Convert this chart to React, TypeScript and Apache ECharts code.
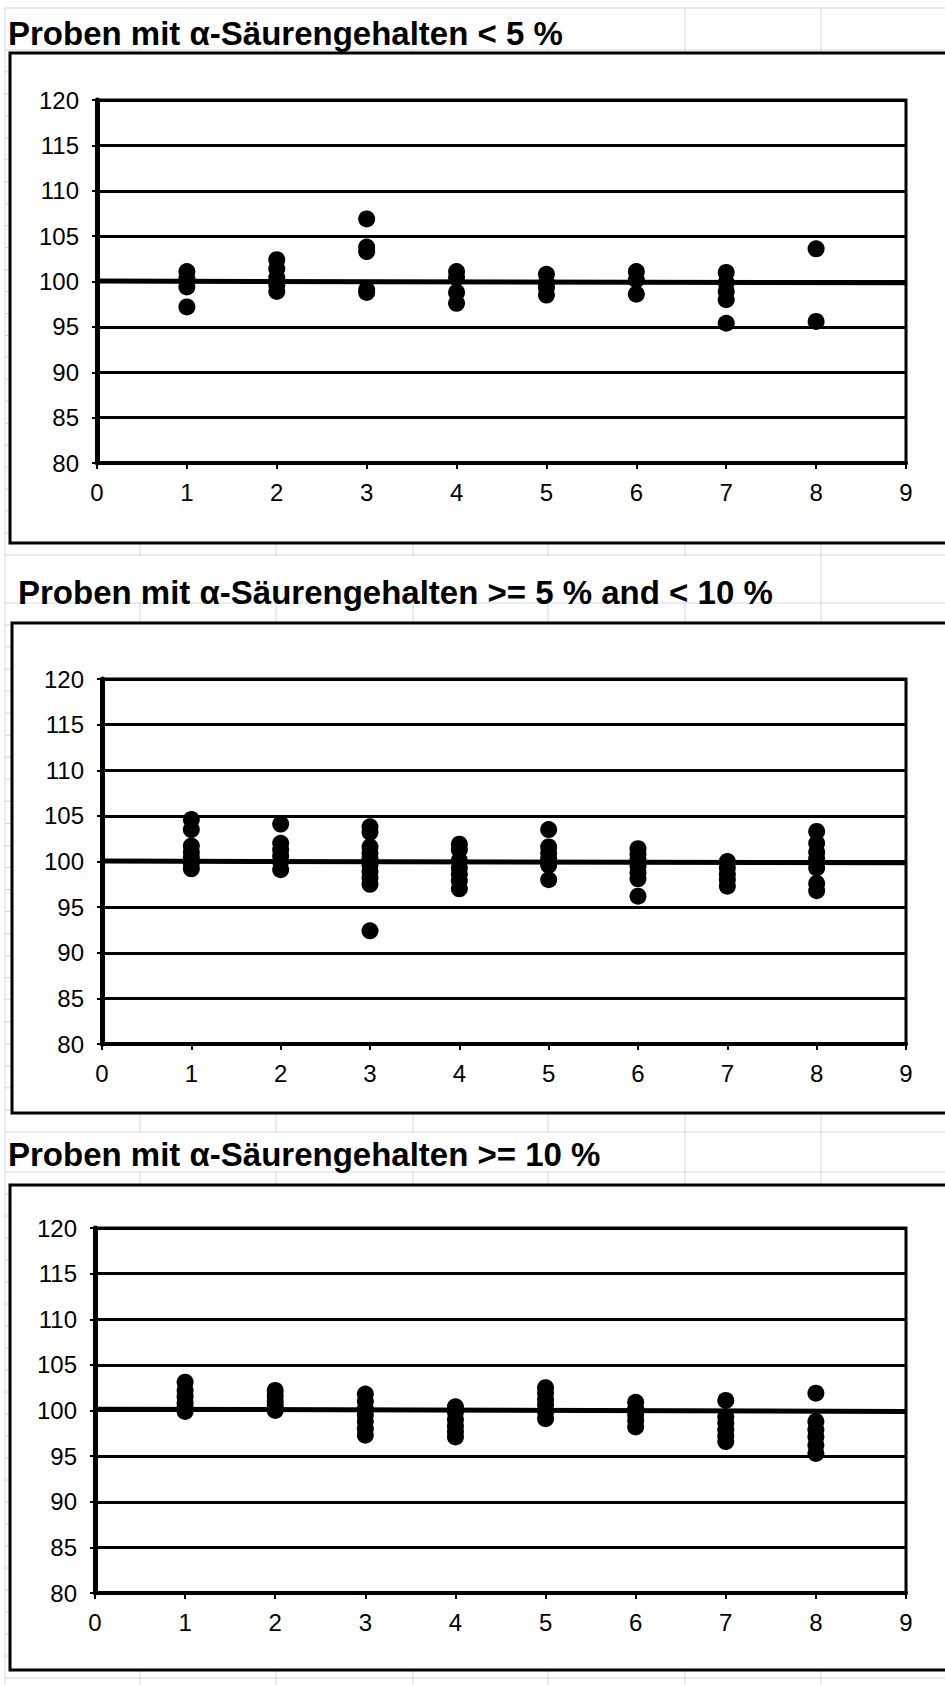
import React, { useEffect, useRef } from "react";
import * as echarts from "echarts";

// ---------- data ----------
const sampleIds = [1, 2, 3, 4, 5, 6, 7, 8];

const titleTexts = [
  "Proben mit α-Säurengehalten < 5 %",
  "Proben mit α-Säurengehalten >= 5 % and < 10 %",
  "Proben mit α-Säurengehalten >= 10 %",
];

// recovery values (%) per sample 1..8 — α-acid content < 5 %
const lowAcid: number[][] = [
  [101.1, 100.3, 99.4, 97.2],
  [102.4, 101.4, 100.4, 99.6, 98.9],
  [106.9, 103.8, 103.3, 99.1, 98.8],
  [101.1, 100.4, 98.8, 97.6],
  [100.8, 99.9, 99.3, 98.5],
  [101.1, 100.2, 98.6],
  [101.0, 99.9, 98.9, 98.0, 95.4],
  [103.6, 95.6],
];

// α-acid content >= 5 % and < 10 %
const midAcid: number[][] = [
  [104.6, 103.5, 101.7, 101.0, 100.4, 99.8, 99.2],
  [104.1, 102.0, 101.3, 100.6, 100.0, 99.1],
  [103.8, 103.2, 101.6, 100.9, 100.3, 99.6, 98.9, 98.2, 97.5, 92.4],
  [101.9, 101.3, 100.1, 99.3, 98.6, 97.9, 97.0],
  [103.5, 101.6, 100.9, 100.3, 99.6, 98.0],
  [101.4, 100.8, 100.2, 99.5, 98.8, 98.1, 96.2],
  [100.0, 99.3, 98.6, 98.0, 97.3],
  [103.3, 102.0, 101.0, 100.3, 99.3, 97.6, 96.8],
];

// α-acid content >= 10 %
const highAcid: number[][] = [
  [103.1, 102.2, 101.5, 100.8, 100.3, 99.9],
  [102.2, 101.6, 101.0, 100.5, 100.0],
  [101.8, 101.0, 100.2, 99.5, 98.8, 98.0, 97.3],
  [100.4, 99.8, 99.0, 98.3, 97.7, 97.1],
  [102.5, 101.9, 101.2, 100.6, 99.8, 99.1],
  [100.9, 100.2, 99.5, 98.9, 98.2],
  [101.1, 99.3, 98.6, 97.9, 97.2, 96.6],
  [101.9, 98.8, 97.9, 97.1, 96.2, 95.3],
];

// trend line end values at x = 0 and x = 9
const trendX = [0, 9];
const lowTrend = [100.05, 99.85];
const midTrend = [100.05, 99.85];
const highTrend = [100.15, 99.9];

const groups = [lowAcid, midAcid, highAcid];
const trends = [lowTrend, midTrend, highTrend];

// ---------- layout ----------
const W = 945;
const H = 1685;
const FONT = "'Liberation Sans', Arial, sans-serif";

const panels = [
  { titleX: 8, titleY: 33, maskEnd: 572, rowTop: 8, rowBottom: 50, boxX: 10, boxTop: 53, boxBottom: 543, left: 97, top: 100, right: 906, bottom: 463 },
  { titleX: 18, titleY: 592, maskEnd: 782, rowTop: 555, rowBottom: 603, boxX: 12, boxTop: 623, boxBottom: 1113, left: 102, top: 679, right: 906, bottom: 1044 },
  { titleX: 8, titleY: 1154, maskEnd: 612, rowTop: 1132, rowBottom: 1172, boxX: 10, boxTop: 1185, boxBottom: 1670, left: 95, top: 1228, right: 906, bottom: 1593 },
];

const colLines = [5, 140, 276, 413, 548, 685, 821];

function buildRowLines(): number[] {
  const rows: number[] = [8, 50];
  for (let k = 1; k < 23; k++) rows.push(50 + (505 / 23) * k);
  rows.push(555, 603);
  for (let k = 1; k < 24; k++) rows.push(603 + (529 / 24) * k);
  rows.push(1132, 1172);
  for (let y = 1172 + 22; y < H; y += 22) rows.push(y);
  return rows;
}

export default function App() {
  const ref = useRef<HTMLDivElement>(null);

  useEffect(() => {
    if (!ref.current) return;
    const chart = echarts.init(ref.current, undefined, { renderer: "svg", width: W, height: H });

    const graphics: any[] = [];
    // spreadsheet grid
    buildRowLines().forEach((y) => {
      graphics.push({
        type: "line", z: -40, silent: true,
        shape: { x1: 5, y1: y, x2: W, y2: y },
        style: { stroke: "#d0d7e5", lineWidth: 1 },
      });
    });
    colLines.forEach((x) => {
      graphics.push({
        type: "line", z: -40, silent: true,
        shape: { x1: x, y1: 8, x2: x, y2: H },
        style: { stroke: "#d0d7e5", lineWidth: 1 },
      });
    });
    panels.forEach((p) => {
      // overflowing title text hides gridlines
      graphics.push({
        type: "rect", z: -30, silent: true,
        shape: { x: 6, y: p.rowTop + 1, width: p.maskEnd - 6, height: p.rowBottom - p.rowTop - 2 },
        style: { fill: "#ffffff" },
      });
      // chart object frame
      graphics.push({
        type: "rect", z: -20, silent: true,
        shape: { x: p.boxX, y: p.boxTop, width: W + 20 - p.boxX, height: p.boxBottom - p.boxTop },
        style: { fill: "#ffffff", stroke: "#000000", lineWidth: 3 },
      });
    });

    const title = panels.map((p, i) => ({
      text: titleTexts[i],
      left: p.titleX,
      top: p.titleY - 20,
      padding: 0,
      textStyle: { fontSize: 33, fontWeight: "bold", fontFamily: FONT, color: "#000", lineHeight: 40 },
    }));

    const grid = panels.map((p) => ({
      left: p.left,
      top: p.top,
      width: p.right - p.left,
      height: p.bottom - p.top,
      show: true,
      borderColor: "#000",
      borderWidth: 3,
      backgroundColor: "transparent",
    }));

    const axisLabel = { fontSize: 24, color: "#000", fontFamily: FONT };

    const xAxis = panels.map((_, i) => ({
      type: "value", gridIndex: i, min: 0, max: 9, interval: 1,
      axisLine: { show: true, onZero: false, lineStyle: { color: "#000", width: 4 } },
      axisTick: { show: true, length: 6, lineStyle: { color: "#000", width: 2 } },
      splitLine: { show: false },
      axisLabel: { ...axisLabel, margin: 17 },
    }));

    const yAxis = panels.map((_, i) => ({
      type: "value", gridIndex: i, min: 80, max: 120, interval: 5,
      axisLine: { show: true, onZero: false, lineStyle: { color: "#000", width: 5 } },
      axisTick: { show: true, length: 5, lineStyle: { color: "#000", width: 2 } },
      splitLine: { show: true, lineStyle: { color: "#000", width: 3 } },
      axisLabel: { ...axisLabel, margin: 18 },
    }));

    const series: any[] = [];
    groups.forEach((g, i) => {
      const pts: number[][] = [];
      g.forEach((vals, j) => vals.forEach((v) => pts.push([sampleIds[j], v])));
      series.push({
        type: "line", xAxisIndex: i, yAxisIndex: i, name: "Trend " + (i + 1),
        data: trendX.map((x, k) => [x, trends[i][k]]),
        showSymbol: false, symbol: "none",
        lineStyle: { color: "#000", width: 5 }, z: 3,
      });
      series.push({
        type: "scatter", xAxisIndex: i, yAxisIndex: i, name: "Proben " + (i + 1),
        data: pts, symbol: "circle", symbolSize: 17,
        itemStyle: { color: "#000", opacity: 1 }, z: 4,
      });
    });

    chart.setOption({
      animation: false,
      backgroundColor: "#ffffff",
      title,
      grid,
      xAxis,
      yAxis,
      series,
      graphic: { elements: graphics },
    });

    return () => chart.dispose();
  }, []);

  return (
    <div
      ref={ref}
      style={{ position: "absolute", left: 0, top: 0, width: W, height: H, background: "#fff" }}
    />
  );
}
